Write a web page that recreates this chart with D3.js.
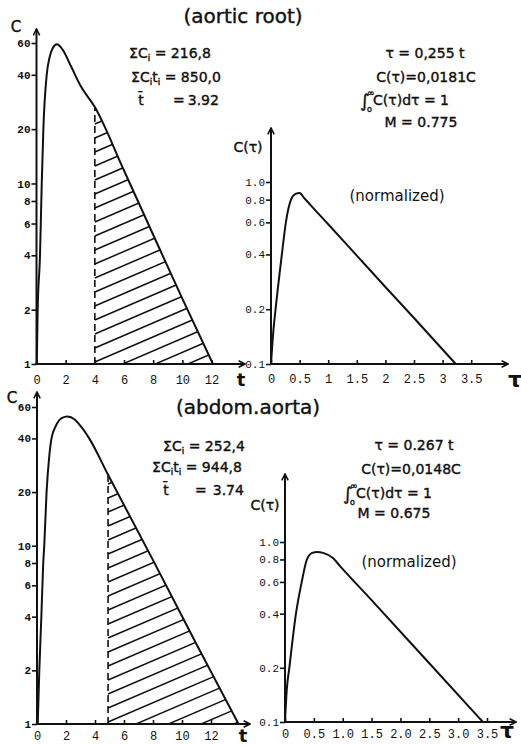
<!DOCTYPE html>
<html>
<head>
<meta charset="utf-8">
<script src="https://cdn.jsdelivr.net/npm/d3@7"></script>
<style>
  body { margin: 0; background: #fff; }
  svg { display: block; }
  .tick line { stroke: #111; stroke-width: 1.6; }
  .tick text { font-family: "Liberation Mono", monospace; fill: #111; }
  .lbl { font-family: "DejaVu Sans", sans-serif; fill: #111; }
</style>
</head>
<body>
<div id="chart"></div>
<script>
// ---- data ----
// aortic root: concentration C vs time t (log scale)
var rootT = [0.02, 0.08, 0.24, 0.33, 0.36, 0.47, 0.7, 0.9, 1.1, 1.4, 1.8, 2.4, 3.0, 4.0, 6.0, 8.0, 10.0, 12.1];
var rootC = [1, 2, 4, 8, 10, 20, 40, 50, 56, 59, 55, 44, 35, 26.5, 11.8, 5.2, 2.3, 1];
var rootCut = 4.0;
// aortic root: normalized C(tau)
var rootTau = [0, 0.04, 0.08, 0.19, 0.26, 0.35, 0.43, 0.5, 0.58, 0.7, 1.0, 1.5, 2.0, 2.5, 3.23];
var rootCn = [0.1, 0.15, 0.2, 0.4, 0.6, 0.8, 0.86, 0.87, 0.817, 0.742, 0.586, 0.394, 0.265, 0.179, 0.1];

// abdominal aorta
var abdT = [0.05, 0.16, 0.3, 0.43, 0.5, 0.66, 0.85, 1.0, 1.3, 1.7, 2.1, 2.6, 3.0, 3.6, 4.9, 8.0, 11.0, 13.9];
var abdC = [1, 2, 4, 8, 10, 20, 32, 40, 47, 52, 53, 51, 47, 40, 25, 8.3, 2.8, 1];
var abdCut = 4.9;
var abdTau = [0, 0.03, 0.075, 0.19, 0.29, 0.38, 0.47, 0.56, 0.66, 0.83, 0.95, 1.5, 2.5, 3.43];
var abdCn = [0.1, 0.15, 0.2, 0.4, 0.6, 0.8, 0.87, 0.88, 0.87, 0.815, 0.737, 0.475, 0.212, 0.1];

// ticks
var concTicks = [1, 2, 4, 6, 8, 10, 20, 40, 60];
var normTicks = [0.1, 0.2, 0.4, 0.6, 0.8, 1.0];
var normTickLabels = ["0.1", "0.2", "0.4", "0.6", "0.8", "1.0"];
var tTicks = [0, 2, 4, 6, 8, 10, 12];
var tauTicks = [0, 0.5, 1, 1.5, 2, 2.5, 3, 3.5];
var tauLabelsTop = ["0", "0.5", "1", "1.5", "2", "2.5", "3", "3.5"];
var tauLabelsBottom = ["0", "0.5", "1.0", "1.5", "2.0", "2.5", "3.0", "3.5"];

// annotations
var rootStats = ["216,8", "850,0", "3.92"];
var rootNorm = ["0,255", "0,0181", "0.775"];
var abdStats = ["252,4", "944,8", "3.74"];
var abdNorm = ["0.267", "0,0148", "0.675"];

var W = 521, H = 745;
var svg = d3.select("#chart").append("svg")
    .attr("width", W)
    .attr("height", H);

svg.append("defs").append("marker")
    .attr("id", "arrow")
    .attr("viewBox", "0 -5 10 10")
    .attr("refX", 9)
    .attr("markerWidth", 8)
    .attr("markerHeight", 8)
    .attr("markerUnits", "userSpaceOnUse")
    .attr("orient", "auto")
  .append("path")
    .attr("d", "M1,-4L9,0L1,4")
    .attr("fill", "none")
    .attr("stroke", "#111")
    .attr("stroke-width", 2);

var clipCount = 0;

function panel(p) {
    var g = svg.append("g");
    var x = d3.scaleLinear().domain(p.xDomain).range(p.xRange);
    var y = d3.scaleLog().domain(p.yDomain).range(p.yRange);
    var x0 = p.xRange[0], y0 = p.yRange[0];

    g.append("g")
        .attr("transform", "translate(" + x0 + ",0)")
        .call(d3.axisLeft(y).tickValues(p.yTicks).tickFormat(function (d, i) { return p.yLabels[i]; })
            .tickSize(5).tickPadding(1))
        .call(function (s) { s.select(".domain").remove(); })
        .selectAll("text")
        .attr("font-size", 11)
        .attr("font-weight", p.boldY ? "bold" : "normal");

    g.append("g")
        .attr("transform", "translate(0," + y0 + ")")
        .call(d3.axisBottom(x).tickValues(p.xTicks).tickFormat(function (d, i) { return p.xLabels[i]; })
            .tickSize(-4).tickPadding(p.xPad))
        .call(function (s) { s.select(".domain").remove(); })
        .selectAll("text")
        .attr("font-size", 12);

    // axis lines with arrows
    g.append("line")
        .attr("x1", x0).attr("y1", y0 + 1)
        .attr("x2", x0).attr("y2", p.yArrow)
        .attr("stroke", "#111").attr("stroke-width", 2)
        .attr("marker-end", "url(#arrow)");
    g.append("line")
        .attr("x1", x0 - 1).attr("y1", y0)
        .attr("x2", p.xArrow).attr("y2", y0)
        .attr("stroke", "#111").attr("stroke-width", 2)
        .attr("marker-end", "url(#arrow)");

    var pts = p.xs.map(function (d, i) { return [d, p.ys[i]]; });

    if (p.cut != null) {
        var id = "clip" + (clipCount++);
        var area = d3.area()
            .x(function (d) { return x(d[0]); })
            .y0(y0)
            .y1(function (d) { return y(d[1]); })
            .curve(d3.curveMonotoneX);
        g.append("clipPath").attr("id", id)
          .append("path").attr("d", area(pts));

        var xc = x(p.cut);
        var cutVal = p.ys[p.xs.indexOf(p.cut)];
        var hatch = d3.range(-20, 30).map(function (k) { return y0 - 2 - k * 14; });
        g.append("g").attr("clip-path", "url(#" + id + ")")
          .selectAll("line").data(hatch).enter().append("line")
            .attr("x1", xc).attr("y1", function (d) { return d; })
            .attr("x2", xc + 260).attr("y2", function (d) { return d - 260 * 0.43; })
            .attr("stroke", "#111").attr("stroke-width", 1.5);

        g.append("line")
            .attr("x1", xc).attr("y1", y0)
            .attr("x2", xc).attr("y2", y(cutVal))
            .attr("stroke", "#111").attr("stroke-width", 1.6)
            .attr("stroke-dasharray", "7,4");
    }

    var line = d3.line()
        .x(function (d) { return x(d[0]); })
        .y(function (d) { return y(d[1]); })
        .curve(d3.curveMonotoneX);
    g.append("path")
        .attr("d", line(pts))
        .attr("fill", "none")
        .attr("stroke", "#111")
        .attr("stroke-width", 2);
    return g;
}

function txt(x, y, html, size, anchor, extra) {
    var t = svg.append("text")
        .attr("class", "lbl")
        .attr("x", x).attr("y", y)
        .attr("font-size", size)
        .attr("text-anchor", anchor || "start")
        .html(html);
    if (extra) extra(t);
    return t;
}
function heavy(t) { t.attr("stroke", "#111").attr("stroke-width", 0.4); }
function bold(t) { t.attr("font-weight", "bold"); }

var SUB = function (s) { return '<tspan font-size="9" dy="3">' + s + '</tspan><tspan dy="-3">'; };

function stats(cx1, cx2, tx, eqx, yb, v, gap) {
    txt(cx1, yb[0], 'ΣC' + SUB('i') + ' = ' + v[0] + '</tspan>', 14, "middle", heavy);
    txt(cx2, yb[1], 'ΣC' + SUB('i') + 't</tspan>' + SUB('i') + ' = ' + v[1] + '</tspan>', 14, "middle", heavy);
    txt(tx, yb[2], 't\u0304', 14, "middle", heavy);
    txt(eqx, yb[2], '=<tspan dx="' + gap + '">' + v[2] + '</tspan>', 14, "start", heavy);
}

function norm(cx, ix, yb, v) {
    var b = yb[2];
    txt(cx[0], yb[0], 'τ = ' + v[0] + ' t', 14, "middle", heavy);
    txt(cx[1], yb[1], 'C(τ)=' + v[1] + 'C', 14, "middle", heavy);
    // integral from 0 to infinity, one text element
    txt(ix, b + 2,
        '<tspan font-size="18">∫</tspan>' +
        '<tspan font-size="9" x="' + (ix + 7) + '" y="' + (b - 9) + '">∞</tspan>' +
        '<tspan font-size="8" x="' + (ix + 7) + '" y="' + (b + 7) + '">o</tspan>' +
        '<tspan x="' + (ix + 13) + '" y="' + b + '">C(τ)dτ = 1</tspan>', 14, "start", heavy);
    txt(cx[2], yb[3], 'M = ' + v[2], 14, "middle", heavy);
}

// ---- aortic root ----
panel({
    xDomain: [0, 12], xRange: [36.5, 211.5], yDomain: [1, 60], yRange: [364, 43],
    yTicks: concTicks, yLabels: concTicks.map(String), boldY: true,
    xTicks: tTicks, xLabels: tTicks.map(String), xPad: 11,
    yArrow: 29, xArrow: 245, xs: rootT, ys: rootC, cut: rootCut
});
panel({
    xDomain: [0, 3.5], xRange: [271, 471.2], yDomain: [0.1, 1], yRange: [364, 182],
    yTicks: normTicks, yLabels: normTickLabels,
    xTicks: tauTicks, xLabels: tauLabelsTop, xPad: 10,
    yArrow: 128, xArrow: 508, xs: rootTau, ys: rootCn
});

// ---- abdominal aorta ----
panel({
    xDomain: [0, 12], xRange: [37, 211], yDomain: [1, 60], yRange: [724, 407],
    yTicks: concTicks, yLabels: concTicks.map(String), boldY: true,
    xTicks: tTicks, xLabels: tTicks.map(String), xPad: 7,
    yArrow: 392, xArrow: 250, xs: abdT, ys: abdC, cut: abdCut
});
panel({
    xDomain: [0, 3.5], xRange: [285, 487], yDomain: [0.1, 1], yRange: [722, 542],
    yTicks: normTicks, yLabels: normTickLabels,
    xTicks: tauTicks, xLabels: tauLabelsBottom, xPad: 7,
    yArrow: 474, xArrow: 516, xs: abdTau, ys: abdCn
});

// titles and labels
txt(243, 23, '(aortic root)', 20, "middle", heavy);
txt(248, 414, '(abdom.aorta)', 20, "middle", heavy);
txt(16, 32, 'C', 15, "middle", heavy);
txt(12, 403, 'C', 15, "middle", heavy);
txt(248, 152, 'C(τ)', 14, "middle", heavy);
txt(265, 510, 'C(τ)', 14, "middle", heavy);
txt(241, 386, 't', 18, "middle", bold);
txt(243, 742, 't', 18, "middle", bold);
txt(515, 387, 'τ', 22, "middle", bold);
txt(507, 738, 'τ', 22, "middle", bold);
txt(397, 201, '(normalized)', 15, "middle");
txt(409, 567, '(normalized)', 15, "middle");

stats(170, 176, 141, 173, [58, 82, 105], rootStats, 3);
stats(204, 197, 166, 195, [451, 472, 495], abdStats, 6);
norm([425, 426, 421], 360, [58, 82, 105, 127], rootNorm);
norm([414, 411, 394], 343, [450, 474, 498, 518], abdNorm);
</script>
</body>
</html>
